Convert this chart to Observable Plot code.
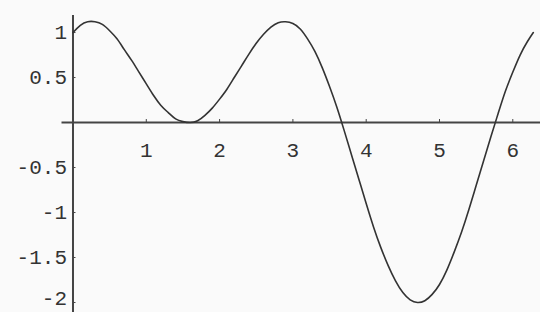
<!DOCTYPE html>
<html><head><meta charset="utf-8">
<script src="https://cdn.jsdelivr.net/npm/d3@7"></script>
<script src="https://cdn.jsdelivr.net/npm/@observablehq/plot@0.6"></script>
<style>html,body{margin:0;padding:0;background:#fafafa;overflow:hidden;}</style>
</head><body><div id="chart"></div>
<script>
const xs = [0,0.1,0.2,0.3,0.4,0.5,0.6,0.7,0.8,0.9,1.0,1.1,1.2,1.3,1.4,1.5,1.6,1.7,1.8,1.9,2.0,2.1,2.2,2.3,2.4,2.5,2.6,2.7,2.8,2.9,3.0,3.1,3.2,3.3,3.4,3.5,3.6,3.7,3.8,3.9,4.0,4.1,4.2,4.3,4.4,4.5,4.6,4.7,4.8,4.9,5.0,5.1,5.2,5.3,5.4,5.5,5.6,5.7,5.8,5.9,6.0,6.1,6.2,6.28];
const ys = [1.00,1.08,1.12,1.12,1.09,1.02,0.93,0.81,0.69,0.56,0.43,0.30,0.19,0.11,0.04,0.01,0.00,0.02,0.08,0.16,0.26,0.37,0.50,0.63,0.76,0.88,0.98,1.06,1.11,1.12,1.10,1.04,0.93,0.79,0.61,0.40,0.17,-0.09,-0.36,-0.63,-0.90,-1.16,-1.39,-1.59,-1.76,-1.89,-1.97,-2.00,-1.98,-1.91,-1.80,-1.64,-1.44,-1.22,-0.97,-0.70,-0.43,-0.16,0.10,0.35,0.56,0.75,0.90,1.00];
const xTicks = [1,2,3,4,5,6];
const xTickLabels = ["1","2","3","4","5","6"];
const yTicks = [1,0.5,-0.5,-1,-1.5,-2];
const yTickLabels = ["1","0.5","-0.5","-1","-1.5","-2"];

const data = xs.map((x,i)=>({x, y: ys[i]}));
const chart = Plot.plot({
  width:540, height:312, margin:0,
  x:{domain:[-0.989,6.378], axis:null},
  y:{domain:[-2.111,1.356], axis:null},
  style:{background:"#fafafa", fontFamily:"'Liberation Mono', monospace", fontSize:"21px", color:"#333"},
  marks:[
    Plot.ruleY([0], {x1:-0.15, x2:6.378, stroke:"#444", strokeWidth:2}),
    Plot.ruleX([0], {y1:-2.111, y2:1.19, stroke:"#444", strokeWidth:2}),
    Plot.ruleX(xTicks, {x:d=>d, y1:0, y2:0, insetTop:-3, stroke:"#444", strokeWidth:1}),
    Plot.ruleY(yTicks, {y:d=>d, x1:0, x2:0, insetRight:-3, stroke:"#444", strokeWidth:1}),
    Plot.text(xTicks, {x:d=>d, y:0, dy:28, text:(d,i)=>xTickLabels[i], fill:"#333"}),
    Plot.text(yTicks, {x:0, y:d=>d, dx:-6, dy:-0, textAnchor:"end", text:(d,i)=>yTickLabels[i], fill:"#333", filter:(d)=>d>-2}),
    Plot.text(yTicks, {x:0, y:d=>d, dx:-6, dy:-4, textAnchor:"end", text:(d,i)=>yTickLabels[i], fill:"#333", filter:(d)=>d<=-2}),
    Plot.line(data, {x:"x", y:"y", curve:"natural", stroke:"#333", strokeWidth:1.6})
  ]
});
document.getElementById("chart").appendChild(chart);
</script>
</body></html>
